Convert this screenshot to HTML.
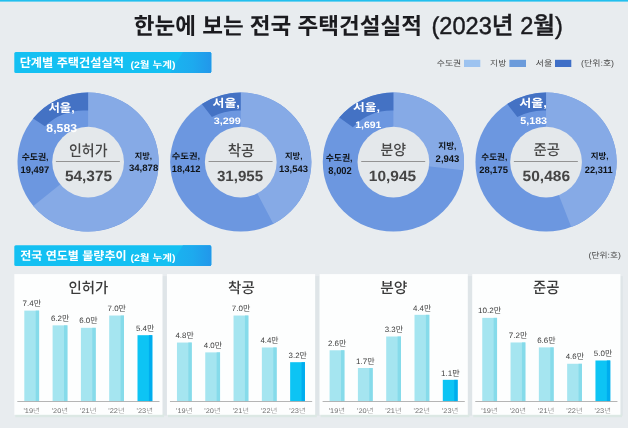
<!DOCTYPE html>
<html lang="ko"><head><meta charset="utf-8"><title>한눈에 보는 전국 주택건설실적</title>
<style>
html,body{margin:0;padding:0;background:#e8ecef;}
body{width:628px;height:428px;overflow:hidden;position:relative;font-family:'Liberation Sans','Noto Sans CJK KR',sans-serif;}
svg{position:absolute;left:0;top:0;display:block;font-family:'Liberation Sans','Noto Sans CJK KR',sans-serif;}
text{white-space:pre;text-rendering:geometricPrecision;}
</style></head><body>
<svg width="628" height="428" viewBox="0 0 628 428">
<defs>
<linearGradient id="bn" gradientUnits="userSpaceOnUse" x1="170" y1="0" x2="211.3" y2="0">
<stop offset="0" stop-color="#19b5f0"/><stop offset="0.55" stop-color="#1daaee"/><stop offset="1" stop-color="#2297ea"/>
</linearGradient>
</defs>
<rect x="0" y="0" width="628" height="428" fill="#e8ecef"/>
<rect x="0" y="0" width="628" height="1.6" fill="#22bfee"/>
<g id="b1"><rect x="14.3" y="52.1" width="197" height="20.8" rx="1.5" fill="#14c0f2"/>
<path d="M183 52.1H209.8a1.5 1.5 0 0 1 1.5 1.5V71.4a1.5 1.5 0 0 1 -1.5 1.5H170Z" fill="url(#bn)"/></g>
<g transform="translate(0 193.1)"><rect x="14.3" y="52.1" width="197" height="20.8" rx="1.5" fill="#14c0f2"/>
<path d="M183 52.1H209.8a1.5 1.5 0 0 1 1.5 1.5V71.4a1.5 1.5 0 0 1 -1.5 1.5H170Z" fill="url(#bn)"/></g>
<g transform="translate(88.10 162.1) scale(1.008 0.992)"><circle cx="0" cy="0" r="70.05" fill="#6c97e0"/><path d="M0.00 -70.05A70.05 70.05 0 1 1 -54.37 44.16L-26.86 21.81A34.6 34.6 0 1 0 0.00 -34.60Z" fill="#86aae6"/><path d="M-54.55 -43.95A70.05 70.05 0 0 1 0.00 -70.05L0.00 -51.90A55.0 55.0 0 0 0 -42.86 -36.04Z" fill="#4472c4"/><circle cx="0" cy="0" r="35.6" fill="#e4e8eb"/></g>
<rect x="55.90" y="161.1" width="64" height="0.9" fill="#8a8a8a"/>
<g transform="translate(240.75 162.1) scale(1.008 0.992)"><circle cx="0" cy="0" r="70.05" fill="#6c97e0"/><path d="M0.00 -70.05A70.05 70.05 0 0 1 32.27 62.18L15.94 30.71A34.6 34.6 0 0 0 0.00 -34.60Z" fill="#86aae6"/><path d="M-38.61 -58.45A70.05 70.05 0 0 1 0.00 -70.05L0.00 -51.90A53.8 53.8 0 0 0 -28.65 -45.42Z" fill="#4472c4"/><circle cx="0" cy="0" r="35.6" fill="#e4e8eb"/></g>
<rect x="208.55" y="161.1" width="64" height="0.9" fill="#8a8a8a"/>
<g transform="translate(393.40 162.1) scale(1.008 0.992)"><circle cx="0" cy="0" r="70.05" fill="#6c97e0"/><path d="M0.00 -70.05A70.05 70.05 0 0 1 69.56 8.29L34.36 4.10A34.6 34.6 0 0 0 0.00 -34.60Z" fill="#86aae6"/><path d="M-53.71 -44.97A70.05 70.05 0 0 1 0.00 -70.05L0.00 -51.90A53.6 53.6 0 0 0 -40.21 -35.13Z" fill="#4472c4"/><circle cx="0" cy="0" r="35.6" fill="#e4e8eb"/></g>
<rect x="361.20" y="161.1" width="64" height="0.9" fill="#8a8a8a"/>
<g transform="translate(546.05 162.1) scale(1.008 0.992)"><circle cx="0" cy="0" r="70.05" fill="#6c97e0"/><path d="M0.00 -70.05A70.05 70.05 0 0 1 25.00 65.44L12.35 32.32A34.6 34.6 0 0 0 0.00 -34.60Z" fill="#86aae6"/><path d="M-38.42 -58.57A70.05 70.05 0 0 1 0.00 -70.05L0.00 -51.90A53.8 53.8 0 0 0 -28.45 -45.42Z" fill="#4472c4"/><circle cx="0" cy="0" r="35.6" fill="#e4e8eb"/></g>
<rect x="513.85" y="161.1" width="64" height="0.9" fill="#8a8a8a"/>
<rect x="16.30" y="276.1" width="150.6" height="139.70" fill="#dfe5e8"/>
<rect x="15.30" y="413.8" width="148.79999999999998" height="3.4" fill="#dce8e4"/>
<rect x="14.30" y="274.1" width="148.2" height="140.70" fill="#fdfefe"/>
<rect x="168.95" y="276.1" width="150.6" height="139.70" fill="#dfe5e8"/>
<rect x="167.95" y="413.8" width="148.79999999999998" height="3.4" fill="#dce8e4"/>
<rect x="166.95" y="274.1" width="148.2" height="140.70" fill="#fdfefe"/>
<rect x="321.60" y="276.1" width="150.6" height="139.70" fill="#dfe5e8"/>
<rect x="320.60" y="413.8" width="148.79999999999998" height="3.4" fill="#dce8e4"/>
<rect x="319.60" y="274.1" width="148.2" height="140.70" fill="#fdfefe"/>
<rect x="474.25" y="276.1" width="148.6" height="139.70" fill="#dfe5e8"/>
<rect x="473.25" y="413.8" width="148.79999999999998" height="3.4" fill="#dce8e4"/>
<rect x="472.25" y="274.1" width="148.2" height="140.70" fill="#fdfefe"/>
<rect x="24.30" y="310.63" width="14.8" height="90.87" fill="#a5e5f0"/>
<rect x="35.70" y="310.63" width="3.4" height="90.87" fill="#86dbea"/>
<rect x="52.60" y="325.36" width="14.8" height="76.14" fill="#a5e5f0"/>
<rect x="64.00" y="325.36" width="3.4" height="76.14" fill="#86dbea"/>
<rect x="80.90" y="327.82" width="14.8" height="73.68" fill="#a5e5f0"/>
<rect x="92.30" y="327.82" width="3.4" height="73.68" fill="#86dbea"/>
<rect x="109.20" y="315.54" width="14.8" height="85.96" fill="#a5e5f0"/>
<rect x="120.60" y="315.54" width="3.4" height="85.96" fill="#86dbea"/>
<rect x="137.50" y="335.19" width="14.8" height="66.31" fill="#0dc4f4"/>
<rect x="148.90" y="335.19" width="3.4" height="66.31" fill="#00adee"/>
<rect x="176.95" y="342.56" width="14.8" height="58.94" fill="#a5e5f0"/>
<rect x="188.35" y="342.56" width="3.4" height="58.94" fill="#86dbea"/>
<rect x="205.25" y="352.38" width="14.8" height="49.12" fill="#a5e5f0"/>
<rect x="216.65" y="352.38" width="3.4" height="49.12" fill="#86dbea"/>
<rect x="233.55" y="315.54" width="14.8" height="85.96" fill="#a5e5f0"/>
<rect x="244.95" y="315.54" width="3.4" height="85.96" fill="#86dbea"/>
<rect x="261.85" y="347.47" width="14.8" height="54.03" fill="#a5e5f0"/>
<rect x="273.25" y="347.47" width="3.4" height="54.03" fill="#86dbea"/>
<rect x="290.15" y="362.20" width="14.8" height="39.30" fill="#0dc4f4"/>
<rect x="301.55" y="362.20" width="3.4" height="39.30" fill="#00adee"/>
<rect x="329.60" y="350.28" width="14.8" height="51.22" fill="#a5e5f0"/>
<rect x="341.00" y="350.28" width="3.4" height="51.22" fill="#86dbea"/>
<rect x="357.90" y="368.01" width="14.8" height="33.49" fill="#a5e5f0"/>
<rect x="369.30" y="368.01" width="3.4" height="33.49" fill="#86dbea"/>
<rect x="386.20" y="336.49" width="14.8" height="65.01" fill="#a5e5f0"/>
<rect x="397.60" y="336.49" width="3.4" height="65.01" fill="#86dbea"/>
<rect x="414.50" y="314.82" width="14.8" height="86.68" fill="#a5e5f0"/>
<rect x="425.90" y="314.82" width="3.4" height="86.68" fill="#86dbea"/>
<rect x="442.80" y="379.83" width="14.8" height="21.67" fill="#0dc4f4"/>
<rect x="454.20" y="379.83" width="3.4" height="21.67" fill="#00adee"/>
<rect x="482.25" y="317.86" width="14.8" height="83.64" fill="#a5e5f0"/>
<rect x="493.65" y="317.86" width="3.4" height="83.64" fill="#86dbea"/>
<rect x="510.55" y="342.46" width="14.8" height="59.04" fill="#a5e5f0"/>
<rect x="521.95" y="342.46" width="3.4" height="59.04" fill="#86dbea"/>
<rect x="538.85" y="347.38" width="14.8" height="54.12" fill="#a5e5f0"/>
<rect x="550.25" y="347.38" width="3.4" height="54.12" fill="#86dbea"/>
<rect x="567.15" y="363.78" width="14.8" height="37.72" fill="#a5e5f0"/>
<rect x="578.55" y="363.78" width="3.4" height="37.72" fill="#86dbea"/>
<rect x="595.45" y="360.50" width="14.8" height="41.00" fill="#0dc4f4"/>
<rect x="606.85" y="360.50" width="3.4" height="41.00" fill="#00adee"/>
<rect x="17.30" y="401.0" width="142.2" height="0.9" fill="#adadad"/>
<rect x="169.95" y="401.0" width="142.2" height="0.9" fill="#adadad"/>
<rect x="322.60" y="401.0" width="142.2" height="0.9" fill="#adadad"/>
<rect x="475.25" y="401.0" width="142.2" height="0.9" fill="#adadad"/>
<rect x="464" y="59.8" width="16.3" height="7.2" fill="#9dc3f0"/>
<rect x="509.4" y="59.8" width="16.6" height="7.2" fill="#6b9bdb"/>
<rect x="555" y="59.8" width="16.3" height="7.2" fill="#3f6fc7"/>
<g opacity="0.999">
<text transform="translate(133.70 34.32) scale(0.987 1)" font-size="22.84" font-weight="700" fill="#1b1b1f">한눈에 보는 전국 주택건설실적</text>
<text transform="translate(431.48 33.86) scale(0.975 1)" font-size="24.23" font-weight="500" fill="#1b1b1f" stroke="#1b1b1f" stroke-width="0.45">(2023년 2월)</text>
<text transform="translate(19.65 67.19) scale(1.006 1)" font-size="12.11" font-weight="700" fill="#ffffff">단계별 주택건설실적</text>
<text transform="translate(130.48 67.56) scale(1.130 1)" font-size="9.36" font-weight="700" fill="#ffffff">(2월 누계)</text>
<text transform="translate(20.14 260.31) scale(1.014 1)" font-size="11.89" font-weight="700" fill="#ffffff">전국 연도별 물량추이</text>
<text transform="translate(130.48 260.76) scale(1.130 1)" font-size="9.36" font-weight="700" fill="#ffffff">(2월 누계)</text>
<text transform="translate(436.76 66.28) scale(1.117 1)" font-size="7.96" font-weight="400" fill="#4a4a4a">수도권</text>
<text transform="translate(490.06 66.28) scale(1.107 1)" font-size="7.96" font-weight="400" fill="#4a4a4a">지방</text>
<text transform="translate(535.54 66.28) scale(1.142 1)" font-size="7.96" font-weight="400" fill="#4a4a4a">서울</text>
<text transform="translate(581.06 65.88) scale(1.091 1)" font-size="8.19" font-weight="400" fill="#4a4a4a">(단위:호)</text>
<text transform="translate(588.58 257.94) scale(1.103 1)" font-size="7.90" font-weight="400" fill="#4a4a4a">(단위:호)</text>
<text transform="translate(48.45 111.73) scale(1.061 1)" font-size="11.68" font-weight="700" fill="#fff">서울,</text>
<text transform="translate(46.33 132.28) scale(1.063 1)" font-size="11.55" font-weight="700" fill="#fff">8,583</text>
<text transform="translate(21.64 159.94) scale(1.028 1)" font-size="8.63" font-weight="700" fill="#101418">수도권,</text>
<text transform="translate(20.54 172.60) scale(0.980 1)" font-size="9.58" font-weight="700" fill="#101418">19,497</text>
<text transform="translate(134.65 158.56) scale(0.971 1)" font-size="8.42" font-weight="700" fill="#101418">지방,</text>
<text transform="translate(128.91 171.11) scale(1.032 1)" font-size="9.30" font-weight="700" fill="#101418">34,878</text>
<text transform="translate(69.06 155.63) scale(0.912 1)" font-size="15.27" font-weight="500" fill="#454545">인허가</text>
<text transform="translate(64.94 181.05) scale(1.033 1)" font-size="14.93" font-weight="700" fill="#454545">54,375</text>
<text transform="translate(212.54 107.29) scale(1.166 1)" font-size="11.05" font-weight="700" fill="#fff">서울,</text>
<text transform="translate(213.78 124.01) scale(1.165 1)" font-size="9.30" font-weight="700" fill="#fff">3,299</text>
<text transform="translate(171.73 158.98) scale(1.139 1)" font-size="8.21" font-weight="700" fill="#101418">수도권,</text>
<text transform="translate(171.74 171.71) scale(1.006 1)" font-size="9.30" font-weight="700" fill="#101418">18,412</text>
<text transform="translate(284.95 158.66) scale(0.983 1)" font-size="8.42" font-weight="700" fill="#101418">지방,</text>
<text transform="translate(279.03 171.71) scale(1.017 1)" font-size="9.30" font-weight="700" fill="#101418">13,543</text>
<text transform="translate(227.72 155.63) scale(0.953 1)" font-size="15.27" font-weight="500" fill="#454545">착공</text>
<text transform="translate(216.90 180.95) scale(1.024 1)" font-size="14.79" font-weight="700" fill="#454545">31,955</text>
<text transform="translate(353.04 111.24) scale(1.203 1)" font-size="10.63" font-weight="700" fill="#fff">서울,</text>
<text transform="translate(355.17 128.41) scale(1.110 1)" font-size="9.44" font-weight="700" fill="#fff">1,691</text>
<text transform="translate(325.64 161.31) scale(0.992 1)" font-size="8.95" font-weight="700" fill="#101418">수도권,</text>
<text transform="translate(328.32 174.10) scale(0.936 1)" font-size="10.00" font-weight="700" fill="#101418">8,002</text>
<text transform="translate(438.24 149.23) scale(0.987 1)" font-size="8.74" font-weight="700" fill="#101418">지방,</text>
<text transform="translate(435.62 161.90) scale(0.976 1)" font-size="9.72" font-weight="700" fill="#101418">2,943</text>
<text transform="translate(380.54 155.08) scale(0.954 1)" font-size="14.62" font-weight="500" fill="#454545">분양</text>
<text transform="translate(368.87 180.95) scale(1.046 1)" font-size="14.79" font-weight="700" fill="#454545">10,945</text>
<text transform="translate(519.14 107.39) scale(1.184 1)" font-size="11.05" font-weight="700" fill="#fff">서울,</text>
<text transform="translate(520.18 124.40) scale(1.107 1)" font-size="9.72" font-weight="700" fill="#fff">5,183</text>
<text transform="translate(481.26 159.86) scale(1.018 1)" font-size="8.42" font-weight="700" fill="#101418">수도권,</text>
<text transform="translate(479.22 172.91) scale(1.014 1)" font-size="9.30" font-weight="700" fill="#101418">28,175</text>
<text transform="translate(590.75 159.16) scale(1.006 1)" font-size="8.42" font-weight="700" fill="#101418">지방,</text>
<text transform="translate(584.82 173.11) scale(0.996 1)" font-size="9.30" font-weight="700" fill="#101418">22,311</text>
<text transform="translate(533.52 154.84) scale(0.955 1)" font-size="15.06" font-weight="500" fill="#454545">준공</text>
<text transform="translate(522.53 180.95) scale(1.051 1)" font-size="14.79" font-weight="700" fill="#454545">50,486</text>
<text transform="translate(68.53 292.86) scale(0.973 1)" font-size="14.84" font-weight="500" fill="#3a3a3a">인허가</text>
<text transform="translate(22.60 306.33) scale(1.016 1)" font-size="7.86" font-weight="400" fill="#3c3c3c">7.4만</text>
<text transform="translate(23.38 413.33) scale(1.097 1)" font-size="6.76" font-weight="300" fill="#707070">'19년</text>
<text transform="translate(50.90 320.99) scale(1.030 1)" font-size="7.75" font-weight="400" fill="#3c3c3c">6.2만</text>
<text transform="translate(51.68 413.33) scale(1.097 1)" font-size="6.76" font-weight="300" fill="#707070">'20년</text>
<text transform="translate(79.20 323.44) scale(1.030 1)" font-size="7.75" font-weight="400" fill="#3c3c3c">6.0만</text>
<text transform="translate(79.98 413.40) scale(1.081 1)" font-size="6.86" font-weight="300" fill="#707070">'21년</text>
<text transform="translate(107.50 311.16) scale(1.030 1)" font-size="7.75" font-weight="400" fill="#3c3c3c">7.0만</text>
<text transform="translate(108.28 413.40) scale(1.081 1)" font-size="6.86" font-weight="300" fill="#707070">'22년</text>
<text transform="translate(135.88 330.81) scale(1.026 1)" font-size="7.75" font-weight="400" fill="#3c3c3c">5.4만</text>
<text transform="translate(136.58 413.33) scale(1.097 1)" font-size="6.76" font-weight="300" fill="#707070">'23년</text>
<text transform="translate(228.12 292.86) scale(0.976 1)" font-size="14.84" font-weight="500" fill="#3a3a3a">착공</text>
<text transform="translate(175.49 338.18) scale(1.017 1)" font-size="7.75" font-weight="400" fill="#3c3c3c">4.8만</text>
<text transform="translate(176.03 413.33) scale(1.097 1)" font-size="6.76" font-weight="300" fill="#707070">'19년</text>
<text transform="translate(203.79 348.00) scale(1.017 1)" font-size="7.75" font-weight="400" fill="#3c3c3c">4.0만</text>
<text transform="translate(204.33 413.33) scale(1.097 1)" font-size="6.76" font-weight="300" fill="#707070">'20년</text>
<text transform="translate(231.85 311.16) scale(1.030 1)" font-size="7.75" font-weight="400" fill="#3c3c3c">7.0만</text>
<text transform="translate(232.63 413.40) scale(1.081 1)" font-size="6.86" font-weight="300" fill="#707070">'21년</text>
<text transform="translate(260.39 343.17) scale(1.002 1)" font-size="7.86" font-weight="400" fill="#3c3c3c">4.4만</text>
<text transform="translate(260.93 413.40) scale(1.081 1)" font-size="6.86" font-weight="300" fill="#707070">'22년</text>
<text transform="translate(288.61 357.83) scale(1.021 1)" font-size="7.75" font-weight="400" fill="#3c3c3c">3.2만</text>
<text transform="translate(289.23 413.33) scale(1.097 1)" font-size="6.76" font-weight="300" fill="#707070">'23년</text>
<text transform="translate(380.21 292.86) scale(0.998 1)" font-size="14.84" font-weight="500" fill="#3a3a3a">분양</text>
<text transform="translate(327.90 345.90) scale(1.030 1)" font-size="7.75" font-weight="400" fill="#3c3c3c">2.6만</text>
<text transform="translate(328.68 413.33) scale(1.097 1)" font-size="6.76" font-weight="300" fill="#707070">'19년</text>
<text transform="translate(356.04 363.71) scale(1.025 1)" font-size="7.86" font-weight="400" fill="#3c3c3c">1.7만</text>
<text transform="translate(356.98 413.33) scale(1.097 1)" font-size="6.76" font-weight="300" fill="#707070">'20년</text>
<text transform="translate(384.66 332.11) scale(1.021 1)" font-size="7.75" font-weight="400" fill="#3c3c3c">3.3만</text>
<text transform="translate(385.28 413.40) scale(1.081 1)" font-size="6.86" font-weight="300" fill="#707070">'21년</text>
<text transform="translate(413.04 310.52) scale(1.002 1)" font-size="7.86" font-weight="400" fill="#3c3c3c">4.4만</text>
<text transform="translate(413.58 413.40) scale(1.081 1)" font-size="6.86" font-weight="300" fill="#707070">'22년</text>
<text transform="translate(440.94 375.53) scale(1.010 1)" font-size="7.97" font-weight="400" fill="#3c3c3c">1.1만</text>
<text transform="translate(441.88 413.33) scale(1.097 1)" font-size="6.76" font-weight="300" fill="#707070">'23년</text>
<text transform="translate(533.12 292.80) scale(0.927 1)" font-size="15.51" font-weight="500" fill="#3a3a3a">준공</text>
<text transform="translate(478.08 313.48) scale(1.045 1)" font-size="7.75" font-weight="400" fill="#3c3c3c">10.2만</text>
<text transform="translate(481.33 413.33) scale(1.097 1)" font-size="6.76" font-weight="300" fill="#707070">'19년</text>
<text transform="translate(508.85 338.16) scale(1.016 1)" font-size="7.86" font-weight="400" fill="#3c3c3c">7.2만</text>
<text transform="translate(509.63 413.33) scale(1.097 1)" font-size="6.76" font-weight="300" fill="#707070">'20년</text>
<text transform="translate(537.15 343.00) scale(1.030 1)" font-size="7.75" font-weight="400" fill="#3c3c3c">6.6만</text>
<text transform="translate(537.93 413.40) scale(1.081 1)" font-size="6.86" font-weight="300" fill="#707070">'21년</text>
<text transform="translate(565.69 359.40) scale(1.017 1)" font-size="7.75" font-weight="400" fill="#3c3c3c">4.6만</text>
<text transform="translate(566.23 413.40) scale(1.081 1)" font-size="6.86" font-weight="300" fill="#707070">'22년</text>
<text transform="translate(593.83 356.12) scale(1.026 1)" font-size="7.75" font-weight="400" fill="#3c3c3c">5.0만</text>
<text transform="translate(594.53 413.33) scale(1.097 1)" font-size="6.76" font-weight="300" fill="#707070">'23년</text>
</g>
</svg>
</body></html>
